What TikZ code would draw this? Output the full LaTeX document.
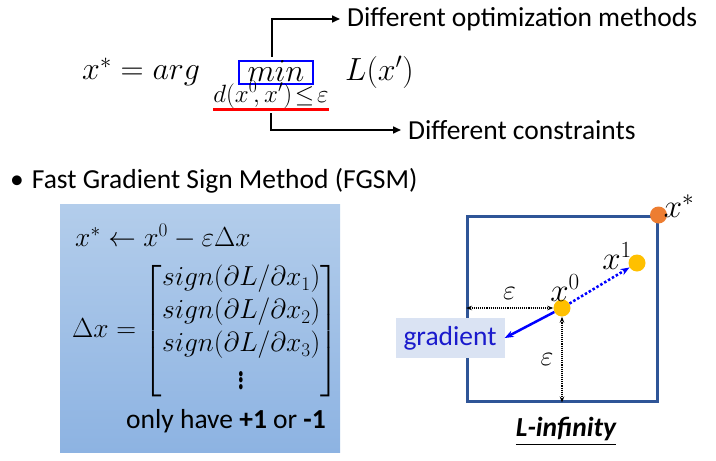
\RequirePackage{fix-cm}
\documentclass[tikz,border=0pt]{standalone}
\usepackage{amsmath,amssymb}
\usepackage{graphicx}
\usepackage{fontspec}
\setmainfont{Carlito}
\usetikzlibrary{positioning, calc, arrows.meta}

\definecolor{boxtop}{HTML}{B3CDEB}
\definecolor{boxbot}{HTML}{8DB3E2}
\definecolor{frame}{HTML}{2F5597}
\definecolor{dotorange}{HTML}{ED7D31}
\definecolor{dotyellow}{HTML}{FFC000}
\definecolor{gradblue}{HTML}{1A1ACC}
\definecolor{gradfill}{HTML}{DAE3F3}

\begin{document}
\begin{tikzpicture}[
    x=1pt,y=-1pt,
    txt/.style={inner sep=0pt, font=\fontsize{27.5}{32}\selectfont},
    eq/.style={inner sep=0pt, font=\fontsize{32}{38}\selectfont},
    boxeq/.style={inner sep=0pt, font=\fontsize{27.5}{33}\selectfont},
    sym/.style={inner sep=0pt, font=\fontsize{33}{38}\selectfont},
    dot/.style={circle, inner sep=0pt, minimum size=17pt},
    guide/.style={-{Triangle[length=8pt,width=7pt]}, line width=1.6pt},
    gap/.style={{Stealth[length=6pt]}-{Stealth[length=6pt]}, densely dotted, line width=1.1pt}
]
    \useasboundingbox (0,0) rectangle (716,461);

    % --- Objective ---
    \node[eq, anchor=west] (lhs) at (82,72) {$x^{*}=arg$};
    \node[eq, draw=blue, line width=2pt, minimum width=74pt, minimum height=23pt, inner sep=0pt] (min) at (276,72) {\raisebox{2pt}{$min$}};
    \node[eq, font=\fontsize{25}{28}\selectfont] (sub) at (271,95) {$d(x^{0}\!,x')\!\le\!\varepsilon$};
    \node[eq, anchor=west] (loss) at (345,72) {$L(x')$};
    \draw[red, line width=2.5pt] ([yshift=-1pt]sub.south west) -- ([yshift=-1pt]sub.south east);

    \node[txt, anchor=west] (optm) at (347,19) {Different optimization methods};
    \node[txt, anchor=west] (cons) at (408,130) {Different constraints};

    \draw[guide] ([xshift=-4pt,yshift=3pt]min.north) |- ([xshift=-7pt]optm.west);
    \draw[guide] ([yshift=-5pt]sub.south) |- ([xshift=-7pt]cons.west);

    % --- FGSM ---
    \node[txt, anchor=west] (fgsm) at (10,181) {\textbullet\hspace{8pt}Fast Gradient Sign Method (FGSM)};
    \node[top color=boxtop, bottom color=boxbot, minimum width=280pt, minimum height=248pt, anchor=north west] (panel) at (60,204) {};
    \node[boxeq, anchor=west] (update) at (75,236) {$x^{*}\leftarrow x^{0}-\varepsilon\Delta x$};
    \node[boxeq, anchor=west] (delta) at (72,331) {$\Delta x=\begin{bmatrix} sign(\partial L/\partial x_1)\\ sign(\partial L/\partial x_2)\\ sign(\partial L/\partial x_3)\\ \scalebox{1.1}[1.6]{$\vdots$} \end{bmatrix}$};
    \node[txt] (only) at (226,421) {only have \textbf{+1} or \textbf{-1}};

    % --- L-infinity ball ---
    \node[draw=frame, line width=2.5pt, minimum width=190pt, minimum height=185pt, anchor=north west] (linf) at (466,215) {};
    \node[dot, fill=dotorange] (xs) at (linf.north east) {};
    \node[sym] (xsl) at (679,206) {$x^{*}$};
    \node[dot, fill=dotyellow] (x0) at (562,308) {};
    \node[dot, fill=dotyellow] (x1) at (637,263) {};
    \node[sym] (x0l) at (565,288) {$x^{0}$};
    \node[sym] (x1l) at (617,256) {$x^{1}$};

    \node[txt, fill=gradfill, text=gradblue, minimum width=109pt, minimum height=40pt] (grad) at (450,338) {gradient};
    \draw[blue, line width=2.5pt, -{Stealth[length=9pt]}] (x0) -- (grad.east);
    \draw[blue, line width=2.5pt, dotted, -{Stealth[length=9pt]}] (x0) -- (x1);

    \draw[gap] (linf.west |- x0) -- (x0.west) node[midway, above=8pt, eq, font=\fontsize{28}{32}\selectfont] {$\varepsilon$};
    \draw[gap] (x0.south) -- (x0 |- linf.south) node[midway, left=8pt, eq, font=\fontsize{28}{32}\selectfont] {$\varepsilon$};

    \node[txt, font=\fontsize{27.5}{32}\selectfont\bfseries\itshape] (lname) at (566,432) {\underline{L-infinity}};

\end{tikzpicture}
\end{document}
